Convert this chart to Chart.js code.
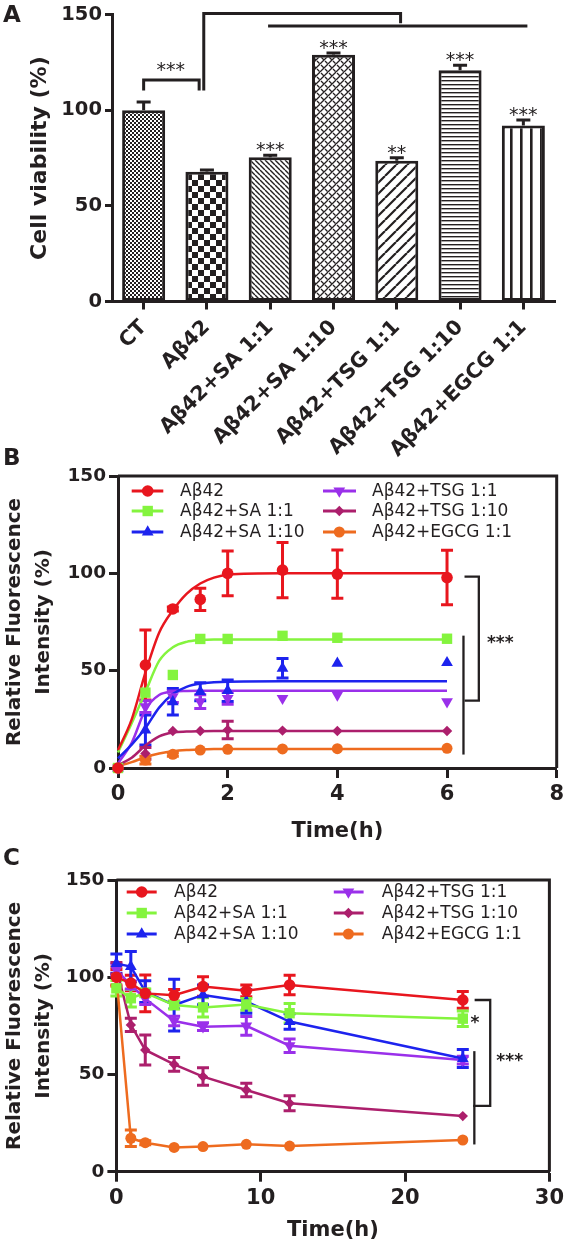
<!DOCTYPE html>
<html><head><meta charset="utf-8">
<script src="https://cdn.jsdelivr.net/npm/chart.js@4.4.1/dist/chart.umd.min.js"></script>
<style>
html,body{margin:0;padding:0;background:#fff}
body{width:568px;height:1245px;position:relative;overflow:hidden}
canvas{position:absolute;left:0}
</style></head><body>
<canvas id="ca" width="568" height="460" style="top:0px"></canvas>
<canvas id="cb" width="568" height="420" style="top:430px"></canvas>
<canvas id="cc" width="568" height="410" style="top:835px"></canvas>
<script>
// ---------- DATA ----------
const categories = ['CT','Aβ42','Aβ42+SA 1:1','Aβ42+SA 1:10','Aβ42+TSG 1:1','Aβ42+TSG 1:10','Aβ42+EGCG 1:1'];
const viability    = [100, 67.8, 75.5, 129.0, 73.6, 120.9, 92.1];
const viabilityErr = [4.4, 1.0, 1.0, 1.0, 1.6, 2.7, 2.8];
const viabilityStars = ['', '', '***', '***', '**', '***', '***'];
const viabilityTicks = [0, 50, 100, 150];

const seriesNames = ['Aβ42','Aβ42+SA 1:1','Aβ42+SA 1:10','Aβ42+TSG 1:1','Aβ42+TSG 1:10','Aβ42+EGCG 1:1'];

const timeB = [0, 0.5, 1, 1.5, 2, 3, 4, 6];
const kinAb42     = [0, 52.9, 81.7, 86.6, 100.0, 101.7, 99.6, 97.8];
const kinAb42Err  = [0, 18.0, 1.0, 5.7, 11.5, 14.2, 12.4, 14.0];
const kinSA1      = [0, 38.7, 47.8, 66.3, 66.3, 67.9, 66.9, 66.4];
const kinSA1Err   = [0, 0, 0, 0, 0, 0, 0, 0];
const kinSA10     = [0, 19.5, 34.0, 39.2, 39.7, 51.2, 53.8, 54.1];
const kinSA10Err  = [0, 7.7, 6.8, 4.6, 5.5, 5.0, 0, 0];
const kinTSG1     = [0, 31.5, 36.6, 34.1, 35.8, 35.8, 37.5, 34.1];
const kinTSG1Err  = [0, 3.0, 3.0, 3.5, 3.0, 0, 0, 0];
const kinTSG10    = [0, 7.5, 19.0, 19.0, 19.5, 19.2, 19.0, 19.0];
const kinTSG10Err = [0, 3.0, 0, 0, 4.5, 0, 0, 0];
const kinEGCG     = [0, 4.1, 7.0, 9.2, 9.6, 9.8, 9.9, 10.1];
const kinEGCGErr  = [0, 2.0, 1.0, 0, 0, 0, 0, 0];

const fitTimeB = [0, 0.25, 0.5, 0.75, 1, 1.25, 1.5, 1.75, 2, 3, 4, 6];
const fitAb42  = [9.2, 25, 49, 69.5, 81, 89.5, 94.8, 97.8, 99.3, 100, 100, 100];
const fitSA1   = [8, 23, 39, 55, 62, 64.8, 65.7, 66, 66, 66, 66, 66];
const fitSA10  = [5, 12, 20.5, 31, 38, 41.7, 43.4, 44, 44.3, 44.5, 44.5, 44.5];
const fitTSG1  = [2.4, 13, 30, 37.5, 39.2, 39.6, 39.7, 39.7, 39.7, 39.7, 39.7, 39.7];
const fitTSG10 = [1.5, 5.3, 11.5, 16.2, 18.2, 18.7, 18.9, 19, 19, 19, 19, 19];
const fitEGCG  = [1, 3, 5.6, 7.4, 8.6, 9.2, 9.5, 9.7, 9.8, 9.8, 9.8, 9.8];
const ticksXB = [0, 2, 4, 6, 8];
const ticksY  = [0, 50, 100, 150];

const timeC = [0, 1, 2, 4, 6, 9, 12, 24];
const disAb42     = [100, 97, 91.7, 90.7, 95.2, 93, 96, 88.3];
const disAb42Err  = [4, 4, 9.4, 3, 5, 3, 5, 4.3];
const disSA1      = [94.3, 89.2, 92, 85.7, 84.5, 86, 81.5, 78.7];
const disSA1Err   = [4, 4.5, 2, 2, 5, 3, 5, 4];
const disSA10     = [107, 105.5, 92.6, 85.7, 90.9, 87.5, 77.2, 58.2];
const disSA10Err  = [5, 7.7, 5.6, 13.3, 5.1, 6, 4, 4.6];
const disTSG1     = [103.8, 96, 89, 77.5, 74.6, 75, 64.8, 57.4];
const disTSG1Err  = [3, 2, 3, 2.5, 2, 4.8, 3.5, 2];
const disTSG10    = [104.6, 75.5, 62.6, 55.2, 48.9, 42, 35.2, 28.6];
const disTSG10Err = [3, 3.4, 7.7, 3.5, 4.5, 3.5, 3.8, 0];
const disEGCG     = [100.3, 17.2, 14.9, 12.5, 12.9, 14.1, 13.2, 16.3];
const disEGCGErr  = [5, 4.3, 1, 0, 0, 0, 0, 0];
const ticksXC = [0, 10, 20, 30];

// ---------- STYLE ----------
const INK = '#231f20';
const FONT = "'DejaVu Sans', sans-serif";
const colors = ['#e8161e', '#84f43e', '#1d23ee', '#9a30ea', '#ac1f6c', '#ee6b1f'];
const markers = [
  {style:'circle', r:5.8, rot:0},
  {style:'rect', r:5.2, rot:0},
  {style:'triangle', r:6.8, rot:0},
  {style:'triangle', r:6.8, rot:180},
  {style:'diamond', r:5.2, rot:0},
  {style:'circle', r:5.5, rot:0}
];
Chart.defaults.font.family = FONT;
Chart.defaults.color = INK;
Chart.defaults.animation = false;

function drawMarker(ctx, m, x, y) {
  ctx.beginPath();
  if (m.style === 'circle') ctx.arc(x, y, m.r, 0, Math.PI * 2);
  else if (m.style === 'rect') ctx.rect(x - m.r, y - m.r, 2 * m.r, 2 * m.r);
  else if (m.style === 'diamond') { ctx.moveTo(x, y - m.r); ctx.lineTo(x + m.r, y); ctx.lineTo(x, y + m.r); ctx.lineTo(x - m.r, y); ctx.closePath(); }
  else if (m.style === 'triangle') {
    const s = m.rot ? -1 : 1, w = m.r * Math.sqrt(3) / 2;
    ctx.moveTo(x, y - s * m.r); ctx.lineTo(x + w, y + s * m.r / 2); ctx.lineTo(x - w, y + s * m.r / 2); ctx.closePath();
  }
  ctx.fill();
}
function ptStyle(m) { return m.style === 'diamond' ? 'rectRot' : m.style; }
function ptRadius(m) { return m.style === 'rect' ? m.r / Math.SQRT1_2 : m.r; }

// ---------- PATTERNS ----------
function makePattern(kind) {
  const c = document.createElement('canvas');
  const sizes = {fine:[4,4], checker:[12,12], back:[5,5], weave:[8,8], slash:[11,11], hl:[4,4], vl:[10,4]};
  const [w, h] = sizes[kind];
  c.width = w; c.height = h;
  const g = c.getContext('2d');
  g.fillStyle = '#fff'; g.fillRect(0, 0, w, h);
  g.fillStyle = INK; g.strokeStyle = INK;
  if (kind === 'fine') { g.fillRect(0,0,2,2); g.fillRect(2,2,2,2); }
  else if (kind === 'checker') { g.fillRect(0,0,6,6); g.fillRect(6,6,6,6); }
  else if (kind === 'back') { g.lineWidth = 1.4; g.beginPath(); for (const o of [-w,0,w]) { g.moveTo(o,0); g.lineTo(o+w,h); } g.stroke(); }
  else if (kind === 'slash') { g.lineWidth = 2.2; g.beginPath(); for (const o of [-w,0,w]) { g.moveTo(o,h); g.lineTo(o+w,0); } g.stroke(); }
  else if (kind === 'weave') {
    g.lineWidth = 1.3; g.beginPath();
    for (const o of [-w,0,w]) { g.moveTo(o,h); g.lineTo(o+w,0); }
    g.moveTo(1,1); g.lineTo(3.5,3.5); g.moveTo(5,5); g.lineTo(7.5,7.5);
    g.stroke();
  }
  else if (kind === 'hl') { g.fillRect(0,0,w,1.4); }
  else if (kind === 'vl') { g.fillRect(0,0,2.6,h); }
  return document.createElement('canvas').getContext('2d').createPattern(c, 'repeat');
}
const barPatterns = ['fine','checker','back','weave','slash','hl','vl'].map(makePattern);

// ---------- PLUGINS ----------
function drawErrors(chart, o) {
  const {ctx} = chart; const ys = chart.scales.y;
  chart.data.datasets.forEach((ds, i) => {
    if (!ds.err) return;
    const meta = chart.getDatasetMeta(i);
    ctx.save();
    ctx.strokeStyle = ds.errColor; ctx.lineWidth = o.width; ctx.lineCap = 'butt';
    meta.data.forEach((el, j) => {
      const e = ds.err[j]; if (!e) return;
      const d = ds.data[j]; const v = (typeof d === 'object') ? d.y : d;
      const x = el.x;
      const yt = ys.getPixelForValue(v + e);
      const yb = o.upOnly ? ys.getPixelForValue(v) : ys.getPixelForValue(v - e);
      ctx.beginPath();
      ctx.moveTo(x, yb); ctx.lineTo(x, yt);
      ctx.moveTo(x - o.cap, yt); ctx.lineTo(x + o.cap, yt);
      if (!o.upOnly) { ctx.moveTo(x - o.cap, yb); ctx.lineTo(x + o.cap, yb); }
      ctx.stroke();
    });
    ctx.restore();
  });
}
const errPlugin = {
  id: 'errBars',
  beforeDatasetsDraw(chart, a, o) { if (!o.after) drawErrors(chart, o); },
  afterDatasetsDraw(chart, a, o) { if (o.after) drawErrors(chart, o); }
};

const sigPlugin = {
  id: 'sig',
  afterDraw(chart, a, o) {
    const {ctx} = chart; const xs = chart.scales.x, ys = chart.scales.y;
    ctx.save();
    ctx.strokeStyle = o.color; ctx.fillStyle = o.color; ctx.lineWidth = o.width;
    ctx.lineJoin = 'miter'; ctx.lineCap = 'square';
    (o.paths || []).forEach(p => {
      ctx.beginPath();
      p.forEach(([x, y], k) => { const px = xs.getPixelForValue(x), py = ys.getPixelForValue(y); k ? ctx.lineTo(px, py) : ctx.moveTo(px, py); });
      ctx.stroke();
    });
    ctx.textAlign = 'center'; ctx.textBaseline = 'middle';
    (o.labels || []).forEach(l => {
      ctx.font = l.font;
      ctx.fillText(l.text, xs.getPixelForValue(l.x), ys.getPixelForValue(l.y) + (l.dy || 0));
    });
    if (o.barStars) {
      const ds = chart.data.datasets[0];
      ctx.font = o.starFont; ctx.textBaseline = 'alphabetic'; ctx.fillStyle = o.starColor;
      o.barStars.forEach((s, j) => {
        if (!s) return;
        ctx.fillText(s, xs.getPixelForValue(j), ys.getPixelForValue(ds.data[j] + ds.err[j]) + o.starDy);
      });
    }
    if (o.panel) {
      ctx.fillStyle = INK; ctx.font = o.panel.font; ctx.textAlign = 'left'; ctx.textBaseline = 'alphabetic';
      ctx.fillText(o.panel.text, o.panel.x, o.panel.y);
    }
    ctx.restore();
  }
};

const framePlugin = {
  id: 'frame',
  afterDraw(chart, a, o) {
    if (!o.on) return;
    const {ctx, chartArea: c} = chart;
    ctx.save(); ctx.strokeStyle = INK; ctx.lineWidth = o.width;
    ctx.beginPath(); ctx.moveTo(c.left, c.top); ctx.lineTo(c.right, c.top); ctx.lineTo(c.right, c.bottom); ctx.stroke();
    ctx.restore();
  }
};

const legendPlugin = {
  id: 'lineLegend',
  afterDraw(chart, a, o) {
    if (!o.labels) return;
    const {ctx, chartArea: c} = chart;
    ctx.save(); ctx.font = o.font; ctx.textBaseline = 'middle'; ctx.textAlign = 'left';
    o.labels.forEach((text, i) => {
      const col = Math.floor(i / 3), row = i % 3;
      const y = c.top + o.rows[row];
      const cc = o.cols[col];
      ctx.strokeStyle = colors[i]; ctx.lineWidth = o.lineWidth;
      ctx.beginPath(); ctx.moveTo(c.left + cc.line[0], y); ctx.lineTo(c.left + cc.line[1], y); ctx.stroke();
      ctx.fillStyle = colors[i];
      drawMarker(ctx, markers[i], c.left + cc.marker, y);
      ctx.fillStyle = INK; ctx.fillText(text, c.left + cc.text, y + 1);
    });
    ctx.restore();
  }
};

// ---------- CHART A ----------
new Chart(document.getElementById('ca'), {
  type: 'bar',
  data: {
    labels: categories,
    datasets: [{
      data: viability, err: viabilityErr, errColor: INK,
      backgroundColor: barPatterns, borderColor: INK, borderWidth: 3, borderSkipped: false,
      barPercentage: 0.68, categoryPercentage: 1
    }]
  },
  options: {
    responsive: false, animation: false, events: [],
    layout: {padding: {left: 0, top: 10, right: 13, bottom: 0}},
    scales: {
      x: {
        grid: {display: true, drawOnChartArea: false, offset: false, tickLength: 8, tickWidth: 3, tickColor: INK},
        border: {display: true, width: 3, color: INK},
        ticks: {autoSkip: false, maxRotation: 45, minRotation: 45, font: {size: 20.5, weight: 'bold'}, color: INK, padding: 6},
        afterFit(s) { s.height = 460 - 301.5; }
      },
      y: {
        min: 0, max: 150,
        afterBuildTicks(s) { s.ticks = viabilityTicks.map(v => ({value: v})); },
        grid: {display: true, drawOnChartArea: false, tickLength: 7, tickWidth: 3, tickColor: INK},
        border: {display: true, width: 3, color: INK},
        ticks: {font: {size: 19.5, weight: 'bold'}, color: INK, padding: 3},
        title: {display: true, text: 'Cell viability (%)', font: {size: 22, weight: 'bold'}, color: INK, padding: {top: 27, bottom: 0}},
        afterFit(s) { s.width = 112; }
      }
    },
    plugins: {
      legend: {display: false}, tooltip: {enabled: false},
      errBars: {after: true, upOnly: true, width: 3, cap: 7},
      sig: {
        color: INK, width: 3,
        paths: [
          [[0, 111.2], [0, 115.8], [0.877, 115.8], [0.877, 111.2]],
          [[0.95, 111.2], [0.95, 150.6], [4.06, 150.6], [4.06, 146.3]],
          [[1.99, 144.1], [6.04, 144.1]]
        ],
        labels: [{text: '***', x: 0.43, y: 122.6, font: '19px ' + FONT, dy: 4}],
        barStars: viabilityStars, starFont: '19px ' + FONT, starColor: INK, starDy: 1,
        panel: {text: 'A', x: 3, y: 22, font: 'bold 23px ' + FONT}
      }
    }
  },
  plugins: [errPlugin, sigPlugin]
});

// ---------- helpers for B & C ----------
function xy(xs, ys) { return xs.map((x, k) => ({x: x, y: ys[k]})); }
function lineScales(xTicks, xMax, xTitleBottom, canvasH, bottomRel, leftPx) {
  return {
    x: {
      type: 'linear', min: 0, max: xMax,
      afterBuildTicks(s) { s.ticks = xTicks.map(v => ({value: v})); },
      grid: {display: true, drawOnChartArea: false, tickLength: 10, tickWidth: 3, tickColor: INK},
      border: {display: true, width: 3, color: INK},
      ticks: {font: {size: 21, weight: 'bold'}, color: INK, padding: 4},
      title: {display: true, text: 'Time(h)', font: {size: 21, weight: 'bold'}, color: INK, padding: {top: 0, bottom: xTitleBottom}},
      afterFit(s) { s.height = canvasH - bottomRel; }
    },
    y: {
      min: 0, max: 150,
      afterBuildTicks(s) { s.ticks = ticksY.map(v => ({value: v})); },
      grid: {display: true, drawOnChartArea: false, tickLength: 9, tickWidth: 3, tickColor: INK},
      border: {display: true, width: 3, color: INK},
      ticks: {font: {size: 18.5, weight: 'bold'}, color: INK, padding: 3},
      title: {display: true, text: ['Relative Fluorescence', 'Intensity (%)'], font: {size: 20, weight: 'bold', lineHeight: 1.45}, color: INK, padding: {top: 0, bottom: 0}},
      afterFit(s) { s.width = leftPx; }
    }
  };
}
const legendCommon = {labels: seriesNames, font: '17px ' + FONT, lineWidth: 3};

// ---------- CHART B ----------
const kinVals = [kinAb42, kinSA1, kinSA10, kinTSG1, kinTSG10, kinEGCG];
const kinErrs = [kinAb42Err, kinSA1Err, kinSA10Err, kinTSG1Err, kinTSG10Err, kinEGCGErr];
const fitVals = [fitAb42, fitSA1, fitSA10, fitTSG1, fitTSG10, fitEGCG];
const dsB = [];
kinVals.forEach((vals, i) => {
  dsB.push({
    label: seriesNames[i], data: xy(timeB, vals), err: kinErrs[i], errColor: colors[i],
    showLine: false, pointStyle: ptStyle(markers[i]), pointRadius: ptRadius(markers[i]), pointRotation: markers[i].rot,
    pointBackgroundColor: colors[i], pointBorderWidth: 0, borderColor: colors[i], clip: false
  });
});
fitVals.forEach((vals, i) => {
  dsB.push({
    label: seriesNames[i] + ' fit', data: xy(fitTimeB, vals),
    borderColor: colors[i], borderWidth: 2.5, pointRadius: 0, cubicInterpolationMode: 'monotone', fill: false, clip: false
  });
});
new Chart(document.getElementById('cb'), {
  type: 'line',
  data: {datasets: dsB},
  options: {
    responsive: false, animation: false, events: [],
    layout: {padding: {left: 0, top: 46, right: 10, bottom: 0}},
    scales: lineScales(ticksXB, 8, 6, 420, 338, 118),
    plugins: {
      legend: {display: false}, tooltip: {enabled: false},
      errBars: {after: false, upOnly: false, width: 3, cap: 6},
      frame: {on: true, width: 3},
      lineLegend: Object.assign({}, legendCommon, {
        rows: [15, 35, 56],
        cols: [{line: [13.7, 45.3], marker: 29.7, text: 62}, {line: [205, 238], marker: 221.3, text: 254}]
      }),
      sig: {
        color: INK, width: 2.3,
        paths: [
          [[6.34, 98.3], [6.58, 98.3], [6.58, 34.6], [6.34, 34.6]],
          [[6.30, 67.4], [6.30, 7.5]]
        ],
        labels: [{text: '***', x: 6.97, y: 65.4, font: 'bold 17px ' + FONT, dy: 3}],
        panel: {text: 'B', x: 3, y: 35, font: 'bold 23px ' + FONT}
      }
    }
  },
  plugins: [errPlugin, framePlugin, legendPlugin, sigPlugin]
});

// ---------- CHART C ----------
const disVals = [disAb42, disSA1, disSA10, disTSG1, disTSG10, disEGCG];
const disErrs = [disAb42Err, disSA1Err, disSA10Err, disTSG1Err, disTSG10Err, disEGCGErr];
const dsC = disVals.map((vals, i) => ({
  label: seriesNames[i], data: xy(timeC, vals), err: disErrs[i], errColor: colors[i],
  borderColor: colors[i], borderWidth: 2.5, tension: 0,
  pointStyle: ptStyle(markers[i]), pointRadius: ptRadius(markers[i]), pointRotation: markers[i].rot,
  pointBackgroundColor: colors[i], pointBorderWidth: 0, clip: false
}));
new Chart(document.getElementById('cc'), {
  type: 'line',
  data: {datasets: dsC},
  options: {
    responsive: false, animation: false, events: [],
    layout: {padding: {left: 0, top: 45, right: 12.7, bottom: 0}},
    scales: lineScales(ticksXC, 30, 2, 410, 336.7, 116.4),
    plugins: {
      legend: {display: false}, tooltip: {enabled: false},
      errBars: {after: false, upOnly: false, width: 3, cap: 6},
      frame: {on: true, width: 3},
      lineLegend: Object.assign({}, legendCommon, {
        rows: [12, 33, 54],
        cols: [{line: [10.3, 40.3], marker: 25.3, text: 57.6}, {line: [217.4, 247.2], marker: 232, text: 265.4}]
      }),
      sig: {
        color: INK, width: 2.3,
        paths: [
          [[24.9, 88.3], [25.9, 88.3], [25.9, 33.8], [24.8, 33.8]],
          [[24.8, 61.4], [24.8, 14.6]]
        ],
        labels: [
          {text: '*', x: 24.85, y: 77.7, font: 'bold 17px ' + FONT, dy: 3},
          {text: '***', x: 27.25, y: 58.3, font: 'bold 17px ' + FONT, dy: 3}
        ],
        panel: {text: 'C', x: 3, y: 30, font: 'bold 23px ' + FONT}
      }
    }
  },
  plugins: [errPlugin, framePlugin, legendPlugin, sigPlugin]
});
</script>
</body></html>
